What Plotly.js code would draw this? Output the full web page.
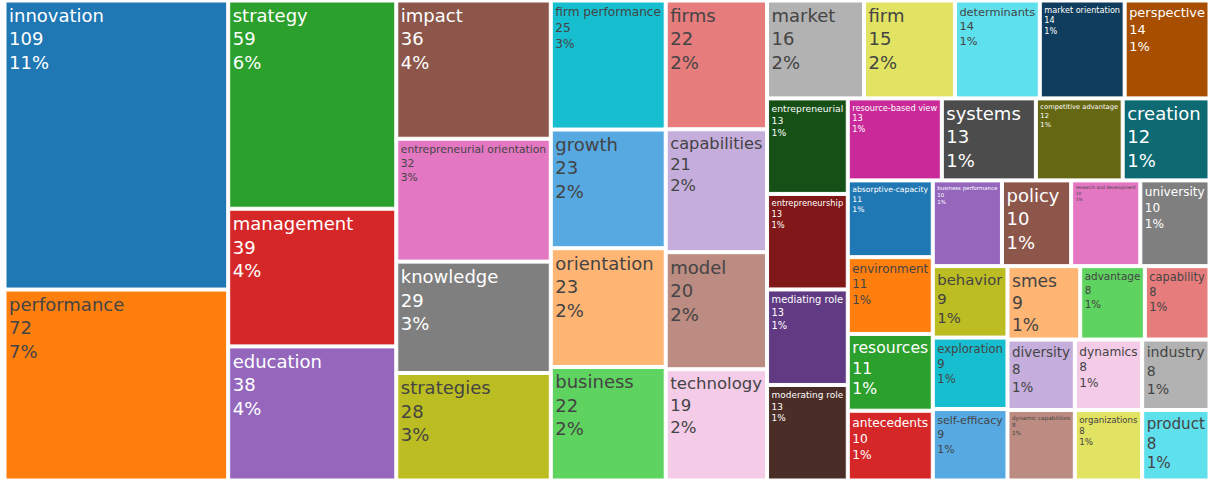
<!DOCTYPE html>
<html>
<head>
<meta charset="utf-8">
<script src="https://cdn.plot.ly/plotly-3.0.1.min.js"></script>
<style>html,body{margin:0;padding:0;background:#fff}#chart{width:1208px;height:482px}</style>
</head>
<body>
<div id="chart"></div>
<script>
var labels = ["innovation","performance","strategy","management","education","impact","entrepreneurial orientation","knowledge","strategies","firm performance",
"growth","orientation","business","firms","capabilities","model","technology","market","firm","determinants",
"market orientation","perspective","entrepreneurial","entrepreneurship","mediating role","moderating role","resource-based view","systems","competitive advantage","creation",
"absorptive-capacity","environment","resources","antecedents","business performance","policy","research and development","university","behavior","exploration",
"self-efficacy","smes","advantage","capability","diversity","dynamic capabilities","dynamics","industry","organizations","product"];
var values = [109,72,59,39,38,36,32,29,28,25,
23,23,22,22,21,20,19,16,15,14,
14,14,13,13,13,13,13,13,12,12,
11,11,11,10,10,10,10,10,9,9,
9,9,8,8,8,8,8,8,8,8];
var parents = labels.map(function(){return "";});

var trace = {
  type: "treemap",
  labels: labels,
  parents: parents,
  values: values,
  textinfo: "label+value+percent entry",
  textposition: "top left",
  textfont: {size: 18, family: "DejaVu Sans, Verdana, sans-serif"},
  pathbar: {visible: false},
  marker: {line: {width: 1, color: "#ffffff"}, pad: {t: 0, l: 0, r: 0, b: 0}},
  hoverinfo: "label+value+percent entry"
};
var layout = {
  width: 1208, height: 482,
  margin: {l: 6, r: 0, t: 2, b: 3},
  paper_bgcolor: "#ffffff",
  font: {family: "DejaVu Sans, Verdana, sans-serif"}
};
Plotly.newPlot("chart", [trace], layout, {displayModeBar: false});
</script>
</body>
</html>
